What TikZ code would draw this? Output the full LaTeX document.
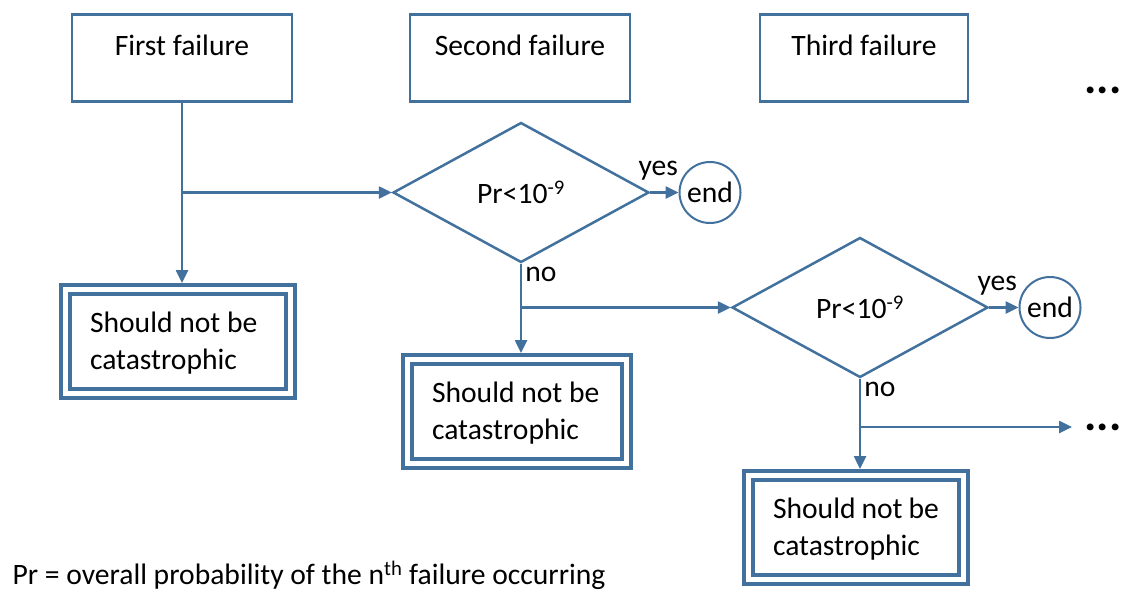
\documentclass[tikz,border=0pt]{standalone}
\usepackage{fontspec}
\setmainfont{Carlito}
\usetikzlibrary{shapes.geometric,arrows.meta,calc}
\definecolor{lineblue}{RGB}{65,113,156}
\begin{document}
\begin{tikzpicture}[x=1pt,y=-1pt,
  every node/.style={font=\fontsize{29.6}{37}\selectfont, text=black},
  topbox/.style={draw=lineblue, line width=2.5pt, rectangle, anchor=north,
    inner ysep=0pt, text height=41pt, text depth=46pt},
  dbox/.style={draw=lineblue, line width=4pt, double=white, double distance=5pt,
    rectangle, anchor=north west, inner xsep=24.5pt, inner ysep=0pt,
    text height=42.5pt, text depth=61.5pt, align=flush left, outer sep=6.5pt},
  decision/.style={draw=lineblue, line width=2.5pt, diamond,
    minimum width=256pt, minimum height=140pt, inner sep=0pt},
  endnode/.style={draw=lineblue, line width=2pt, circle, minimum size=61pt, inner sep=0pt},
  conn/.style={draw=lineblue, line width=2.5pt, -{Triangle[length=13pt,width=12pt]}},
  lbl/.style={anchor=base},
  dots/.style={font=\fontsize{46}{46}\selectfont\bfseries, anchor=base}
]
\useasboundingbox (0,0) rectangle (1123,592);

% top boxes
\node[topbox, minimum width=220pt] (b1) at (182,13) {First failure};
\node[topbox, minimum width=220pt] (b2) at (520,13) {Second failure};
\node[topbox, minimum width=208pt] (b3) at (864,13) {Third failure};
\node[dots] (dots1) at (1103,93) {...};

% decisions
\node[decision] (d1) at (521,192.5) {Pr<10\textsuperscript{-9}};
\node[endnode] (e1) at (710,192.5) {end};
\node[decision] (d2) at (860,307.5) {Pr<10\textsuperscript{-9}};
\node[endnode] (e2) at (1050,307.5) {end};

% double boxes
\node[dbox, text width=176pt] (db1) at (59,283) {Should~not~be\\catastrophic};
\node[dbox, text width=170pt] (db2) at (401,353) {Should~not~be\\catastrophic};
\node[dbox, text width=166pt] (db3) at (742,469) {Should~not~be\\catastrophic};

% dots at end of branch
\node[dots] (dots2) at (1103,430) {...};
\coordinate (t3) at (1072,427);

% connectors
\draw[conn] (b1.south) -- (b1.south |- db1.north);
\coordinate (j1) at (b1.south |- d1.west);
\draw[conn] (j1) -- (d1.west);
\draw[conn] (d1.east) -- (e1.west);
\node[lbl] (yes1) at ($(d1.east)+(8,-17.5)$) {yes};
\draw[conn] (d1.south) -- (d1.south |- db2.north);
\node[lbl] (no1) at ($(d1.south)+(20,18)$) {no};
\coordinate (j2) at (d1.south |- d2.west);
\draw[conn] (j2) -- (d2.west);
\draw[conn] (d2.east) -- (e2.west);
\node[lbl] (yes2) at ($(d2.east)+(8,-17.5)$) {yes};
\draw[conn] (d2.south) -- (d2.south |- db3.north);
\node[lbl] (no2) at ($(d2.south)+(20,18)$) {no};
\coordinate (j3) at (d2.south |- t3);
\draw[conn] (j3) -- (t3);

% footnote
\node[anchor=base west] (note) at (9,584.5) {Pr = overall probability of the n\textsuperscript{th} failure occurring};
\end{tikzpicture}
\end{document}
